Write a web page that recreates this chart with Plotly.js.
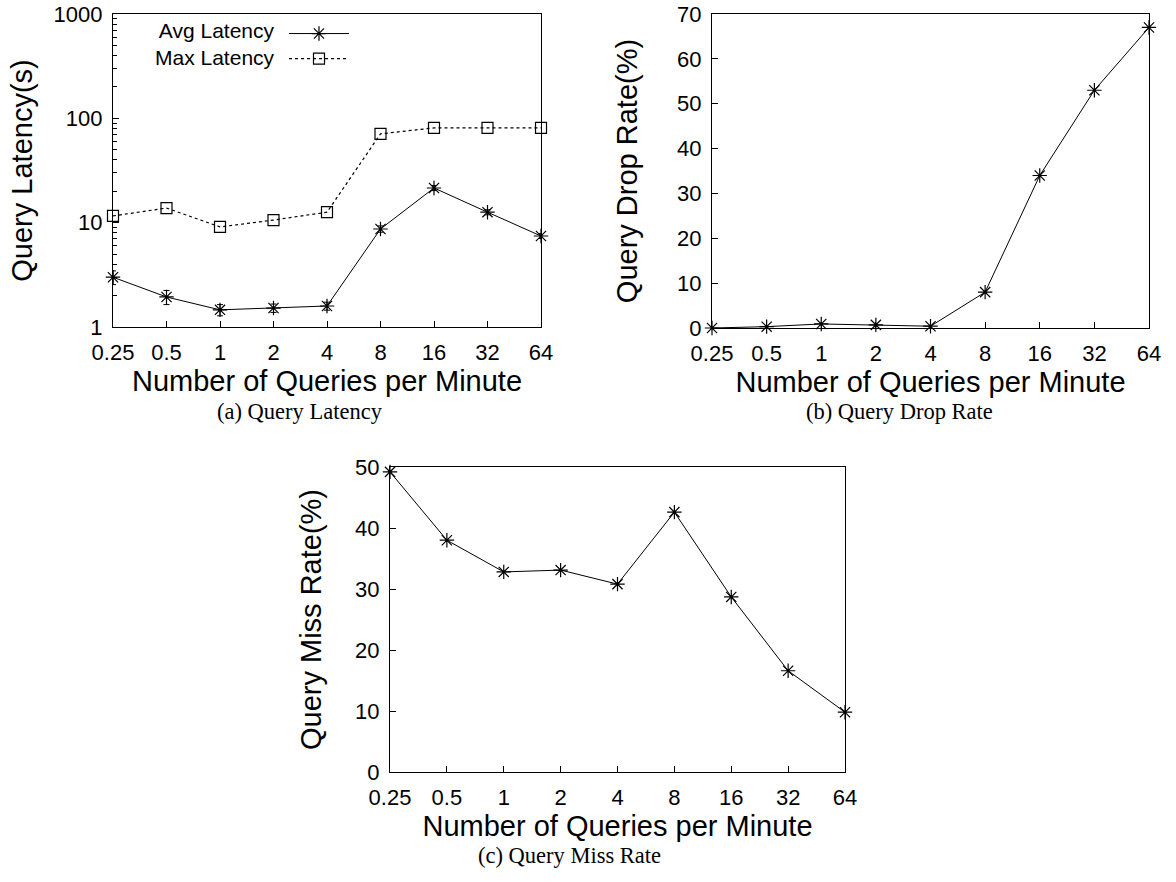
<!DOCTYPE html>
<html>
<head>
<meta charset="utf-8">
<script src="https://cdn.plot.ly/plotly-3.0.1.min.js"></script>
<style>html,body{margin:0;padding:0;background:#fff;}#chart{width:1176px;height:882px;}</style>
</head>
<body>
<div id="chart"></div>
<script>
// ---- data ----
const queriesPerMinute = ["0.25", "0.5", "1", "2", "4", "8", "16", "32", "64"];
const avgLatency = [3.0, 1.94, 1.46, 1.52, 1.59, 8.7, 21.5, 12.6, 7.45];
const avgLatencyErr = [0.45, 0.3, 0.18, 0.14, 0.14, 0.6, 1.2, 0.7, 0.4];
const maxLatency = [11.6, 13.8, 9.1, 10.6, 12.6, 71, 81, 81, 81];
const dropRate = [0, 0.3, 0.9, 0.7, 0.4, 8.0, 34, 53, 67];
const missRate = [49.2, 38.0, 32.8, 33.1, 30.8, 42.6, 28.7, 16.6, 9.8];
const latencyTickVals = [1, 10, 100, 1000];
const latencyTickText = ["1", "10", "100", "1000"];
const legendLabels = ["Avg Latency", "Max Latency"];
const captions = ["(a) Query Latency", "(b) Query Drop Rate", "(c) Query Miss Rate"];
const xTitle = "Number of Queries per Minute";

// ---- layout helpers ----
const W = 1176, H = 882;
const px = v => v / W;
const py = v => 1 - v / H;
const sans = "Liberation Sans, Arial, Helvetica, sans-serif";
const serif = "Liberation Serif, Times New Roman, serif";

function axisBase(extra) {
  return Object.assign({
    showline: true, linecolor: "black", linewidth: 1.2, mirror: true,
    ticks: "inside", ticklen: 6, tickcolor: "black", tickwidth: 1,
    showgrid: false, zeroline: false,
    tickfont: {family: sans, size: 22, color: "black"},
    ticklabelstandoff: 5
  }, extra);
}
function xAxis(domain, anchor) {
  return axisBase({
    domain: domain, anchor: anchor, type: "category",
    categoryorder: "array", categoryarray: queriesPerMinute,
    range: [0, queriesPerMinute.length - 1],
    title: {text: xTitle, font: {family: sans, size: 29, color: "black"}, standoff: 4}
  });
}

const lineStyle = {color: "black", width: 1};
const starMarker = {symbol: "asterisk-open", size: 12, color: "black", line: {color: "black", width: 1.2}};

const traces = [
  {x: queriesPerMinute, y: avgLatency, xaxis: "x", yaxis: "y", mode: "lines+markers",
   name: " ", line: lineStyle, marker: starMarker, cliponaxis: false,
   error_y: {type: "data", array: avgLatencyErr, color: "black", thickness: 1, width: 3}},
  {x: queriesPerMinute, y: maxLatency, xaxis: "x", yaxis: "y", mode: "lines+markers",
   name: "  ", line: {color: "black", width: 1.2, dash: "dot"},
   marker: {symbol: "square-open", size: 11, color: "black", line: {color: "black", width: 1.2}},
   cliponaxis: false},
  {x: queriesPerMinute, y: dropRate, xaxis: "x2", yaxis: "y2", mode: "lines+markers",
   showlegend: false, line: lineStyle, marker: starMarker, cliponaxis: false},
  {x: queriesPerMinute, y: missRate, xaxis: "x3", yaxis: "y3", mode: "lines+markers",
   showlegend: false, line: lineStyle, marker: starMarker, cliponaxis: false}
];

const layout = {
  width: W, height: H,
  margin: {l: 0, r: 0, t: 0, b: 0},
  paper_bgcolor: "white", plot_bgcolor: "white",
  font: {family: sans, color: "black"},
  showlegend: true,
  legend: {x: px(284), y: py(16), xanchor: "left", yanchor: "top",
           bgcolor: "rgba(0,0,0,0)", itemwidth: 60, font: {size: 17}, tracegroupgap: 0},
  xaxis: xAxis([px(113), px(541)], "y"),
  yaxis: axisBase({domain: [py(327), py(14)], anchor: "x", type: "log", range: [0, 3],
    tickvals: latencyTickVals, ticktext: latencyTickText,
    minor: {ticks: "inside", ticklen: 4, dtick: "D1", tickcolor: "black"},
    title: {text: "Query Latency(s)", font: {family: sans, size: 29, color: "black"}, standoff: 12}}),
  xaxis2: xAxis([px(712), px(1149)], "y2"),
  yaxis2: axisBase({domain: [py(328), py(14)], anchor: "x2", range: [0, 70], dtick: 10,
    title: {text: "Query Drop Rate(%)", font: {family: sans, size: 29, color: "black"}, standoff: 30}}),
  xaxis3: xAxis([px(390), px(845)], "y3"),
  yaxis3: axisBase({domain: [py(772), py(467)], anchor: "x3", range: [0, 50], dtick: 10,
    title: {text: "Query Miss Rate(%)", font: {family: sans, size: 29, color: "black"}, standoff: 24}}),
  annotations: [
    {xref: "paper", yref: "paper", x: px(277), y: py(44), xanchor: "right", yanchor: "middle",
     align: "right", text: legendLabels.join("<br>"), showarrow: false,
     font: {family: sans, size: 21, color: "black"}},
    {xref: "paper", yref: "paper", x: px(300), y: py(412), xanchor: "center", yanchor: "middle",
     text: captions[0], showarrow: false, font: {family: serif, size: 22.5, color: "black"}},
    {xref: "paper", yref: "paper", x: px(899), y: py(412), xanchor: "center", yanchor: "middle",
     text: captions[1], showarrow: false, font: {family: serif, size: 22.5, color: "black"}},
    {xref: "paper", yref: "paper", x: px(569), y: py(855), xanchor: "center", yanchor: "middle",
     text: captions[2], showarrow: false, font: {family: serif, size: 22.5, color: "black"}}
  ]
};

Plotly.newPlot("chart", traces, layout, {displayModeBar: false, staticPlot: true});
</script>
</body>
</html>
